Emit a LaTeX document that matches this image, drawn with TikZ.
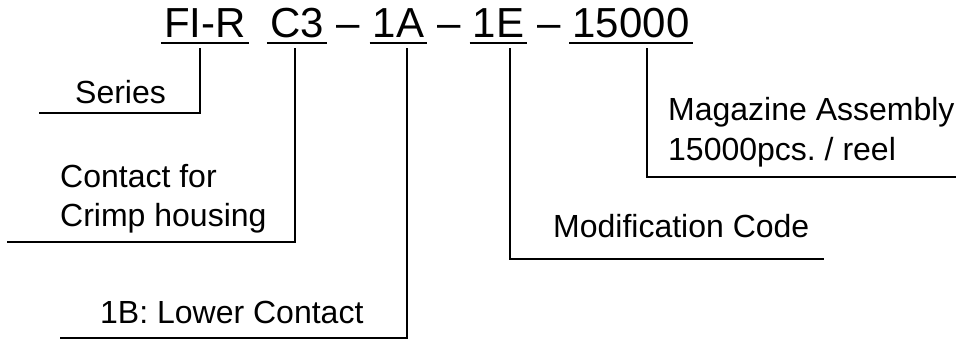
\documentclass[tikz,border=0pt]{standalone}
\usepackage{fontspec}
\setmainfont{Liberation Sans}
\frenchspacing
\begin{document}
\begin{tikzpicture}[x=1pt,y=-1pt,
  ttl/.style={anchor=base,inner ysep=0pt,inner xsep=3pt,font=\fontsize{42}{42}\selectfont},
  lbl/.style={anchor=base west,inner sep=0pt,font=\fontsize{32}{39}\selectfont},
  ul/.style={line width=2.7pt},
  conn/.style={line width=1.3pt}]
\useasboundingbox (0,0) rectangle (956,340);
% title
\node[ttl] (t1) at (205,37) {FI-R};
\node[ttl] (t2) at (297,37) {C3};
\node[ttl,inner xsep=0pt] (d1) at (348,37) {–};
\node[ttl] (t3) at (398.5,37) {1A};
\node[ttl,inner xsep=0pt] (d2) at (449,37) {–};
\node[ttl] (t4) at (498.5,37) {1E};
\node[ttl,inner xsep=0pt] (d3) at (549,37) {–};
\node[ttl] (t5) at (631,37) {15000};
\foreach \n in {t1,t2,t3,t4,t5}
  \draw[ul] ([yshift=-6pt]\n.base west) -- ([yshift=-6pt]\n.base east);
% labels
\node[lbl] (series) at (75,103) {Series};
\node[lbl] (contactA) at (60,187) {Contact for};
\node[lbl] (contactB) at (60,226) {Crimp housing};
\node[lbl] (lower) at (100,323) {1B: Lower Contact};
\node[lbl] (modif) at (553,237) {Modification Code};
\node[lbl] (magA) at (668,120) {Magazine Assembly};
\node[lbl] (magB) at (668,160) {15000pcs. / reel};
% connector coordinates
\coordinate (s0) at (200,48);  \coordinate (s1) at (39,113);
\coordinate (c0) at (295,48);  \coordinate (c1) at (7,242);
\coordinate (a0) at (407,48);  \coordinate (a1) at (60,338);
\coordinate (e0) at (510,48);  \coordinate (e1) at (824,259);
\coordinate (m0) at (647,48);  \coordinate (m1) at (956,177);
\draw[conn] (s0) |- (s1);
\draw[conn] (c0) |- (c1);
\draw[conn] (a0) |- (a1);
\draw[conn] (e0) |- (e1);
\draw[conn] (m0) |- (m1);
\end{tikzpicture}
\end{document}
